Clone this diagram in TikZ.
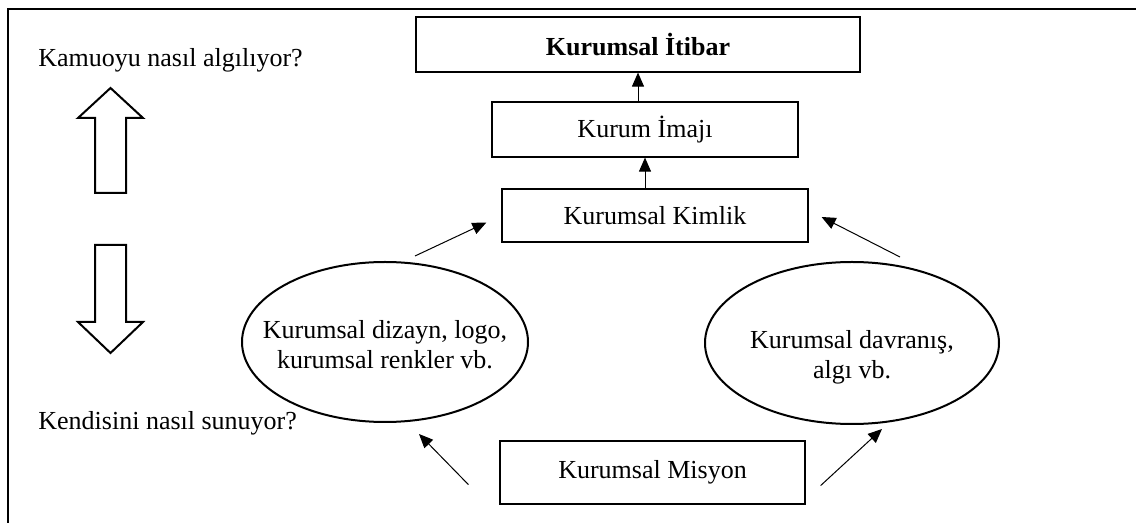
\documentclass[tikz,border=0pt]{standalone}
\usepackage{fontspec}
\setmainfont{Liberation Serif}
\usepackage{tikz}
\usetikzlibrary{
  arrows.meta, positioning, shapes.geometric, calc
}

\tikzset{
  kutu/.style={draw, line width=0.6pt, inner sep=0pt, align=center},
  elips/.style={draw, ellipse, line width=1pt, inner sep=0pt},
  ok/.style={-{Triangle[length=7pt, width=6pt]}, line width=0.5pt},
  bosok/.style={draw, line width=1pt, line join=miter},
  yazi/.style={inner sep=0pt, anchor=base west}
}
\newcommand{\ikisatir}[3]{\makebox[0pt]{\smash{\raisebox{#1}{%
  \begin{tabular}{@{}c@{}}#2\\#3\end{tabular}}}}}

\begin{document}
\begin{tikzpicture}[x=0.5pt, y=-0.5pt, font=\fontsize{13}{15}\selectfont]
  \useasboundingbox (0,0) rectangle (1136,523);

  %--- frame (top and left only) ---
  \draw[line width=1pt] (1136,9) -- (8,9) -- (8,523);

  %--- left side: questions and hollow arrows ---
  \node[yazi] (kamuoyu) at (38,67) {Kamuoyu nasıl algılıyor?};
  \node[yazi] (kendisini) at (38,430) {Kendisini nasıl sunuyor?};
  \path[bosok] (95,193) -- (95,118) -- (78,118) -- (110.5,88)
    -- (143,118) -- (126,118) -- (126,193) -- cycle;
  \path[bosok] (95,245) -- (95,322) -- (78,322) -- (110.5,353)
    -- (143,322) -- (126,322) -- (126,245) -- cycle;

  %--- boxes ---
  \node[kutu, minimum width=222pt, minimum height=27.5pt,
        font=\fontsize{13}{15}\selectfont\bfseries]
    (itibar) at (638,44.5) {Kurumsal İtibar};
  \node[kutu, minimum width=153pt, minimum height=27.5pt]
    (imaj) at (645,129.5) {Kurum İmajı};
  \node[kutu, minimum width=153pt, minimum height=26.5pt]
    (kimlik) at (655,215.5) {Kurumsal Kimlik};
  \node[kutu, minimum width=152.5pt, minimum height=31.5pt]
    (misyon) at (652.5,472.5) {Kurumsal Misyon};

  %--- ellipses ---
  \node[elips, minimum width=143pt, minimum height=80pt]
    (dizayn) at (385,342)
    {\ikisatir{-5.75pt}{Kurumsal dizayn, logo,}{kurumsal renkler vb.}};
  \node[elips, minimum width=147pt, minimum height=81pt]
    (davranis) at (852,343)
    {\ikisatir{-10.25pt}{Kurumsal davranış,}{algı vb.}};

  %--- arrows ---
  \draw[ok] (imaj.north -| itibar.south) -- (itibar.south);
  \draw[ok] (kimlik.north -| imaj.south) -- (imaj.south);
  \draw[ok] ($(dizayn.north)+(30,-5)$) -- ($(kimlik.west)+(-15,7)$);
  \draw[ok] ($(davranis.north)+(48,-4)$) -- ($(kimlik.east)+(13,1.5)$);
  \draw[ok] ($(misyon.south west)+(-31,-20)$) -- ($(dizayn.south)+(34,11)$);
  \draw[ok] ($(misyon.south east)+(15,-19)$) -- ($(davranis.south)+(30,4)$);
\end{tikzpicture}
\end{document}
